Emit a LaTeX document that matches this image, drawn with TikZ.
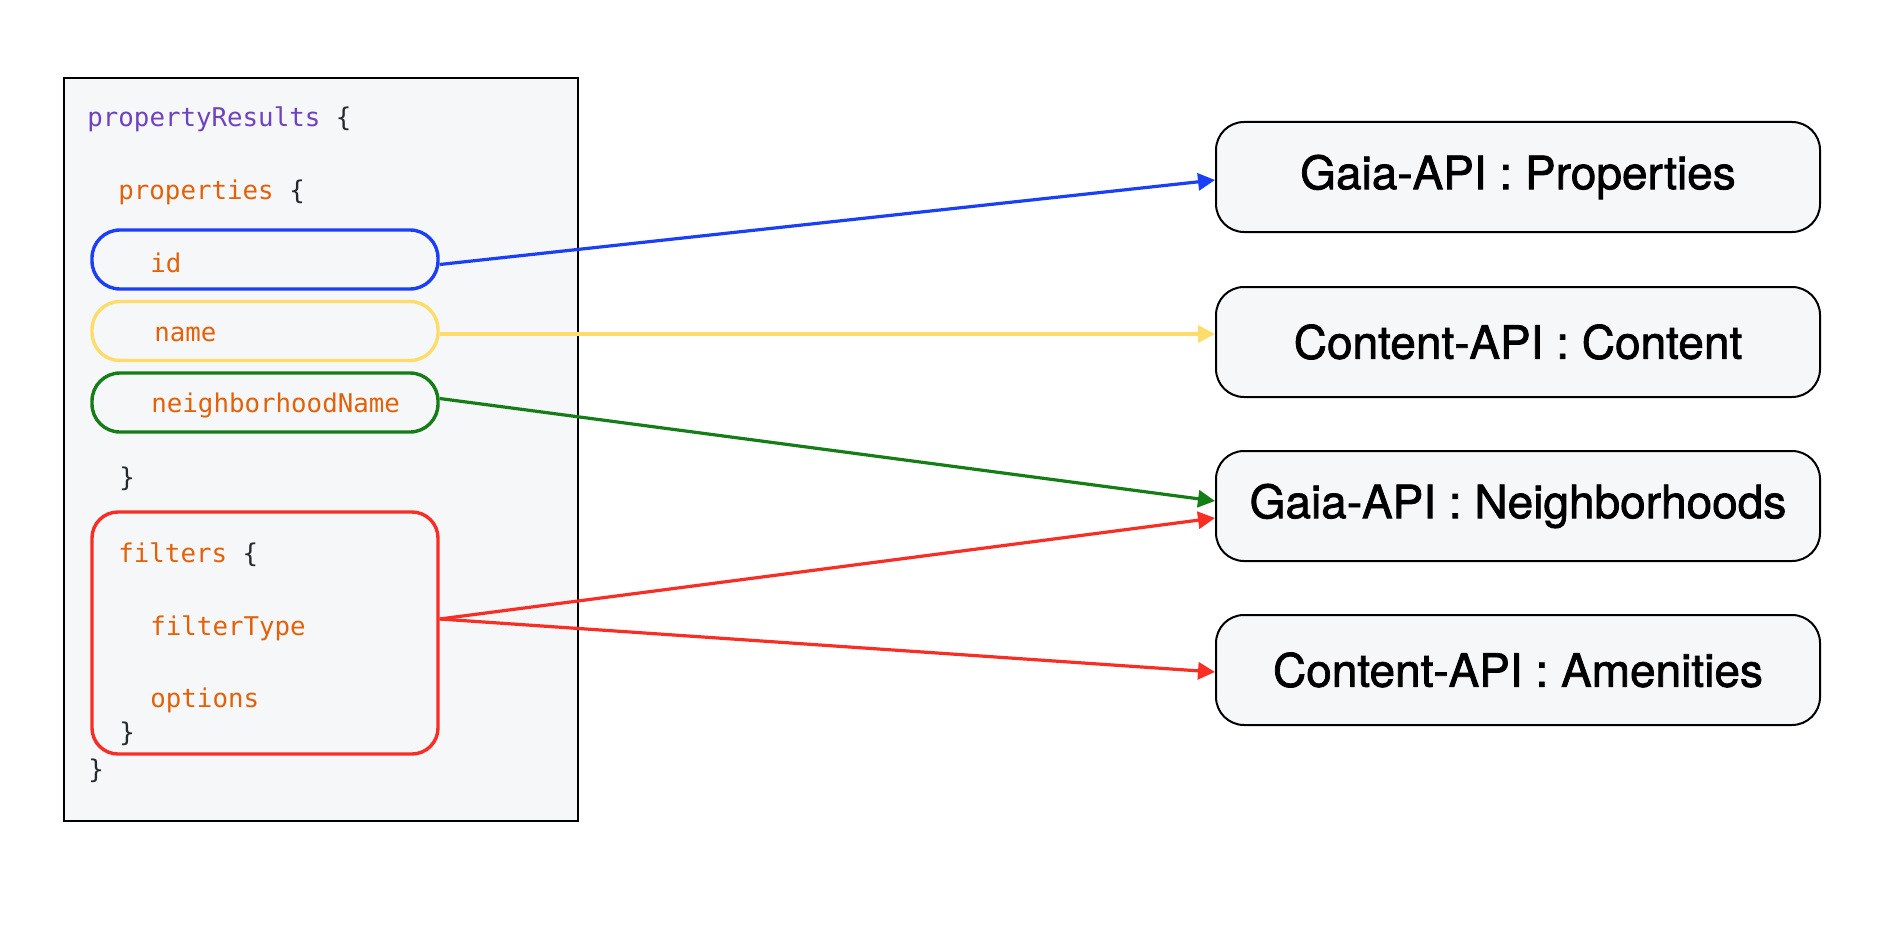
\documentclass[tikz,border=0pt]{standalone}
\usepackage{fontspec}
\setmainfont{TeX Gyre Heros}
\newfontfamily\apifont{TeX Gyre Heros}[FakeBold=1.6]
\newfontfamily\codefont{DejaVu Sans Mono}
\usetikzlibrary{arrows.meta}
\definecolor{bgbox}{HTML}{F6F7F9}
\definecolor{cpurple}{HTML}{6F42C1}
\definecolor{corange}{HTML}{E36209}
\definecolor{cdark}{HTML}{24292E}
\definecolor{lblue}{HTML}{1A3FF6}
\definecolor{lyellow}{HTML}{FDDC69}
\definecolor{lgreen}{HTML}{147D16}
\definecolor{lred}{HTML}{F82D23}
\tikzset{
  code/.style={font=\codefont\fontsize{12.9}{15}\selectfont, anchor=base west, inner sep=0pt, text=corange},
  pill/.style={draw, line width=1.7pt, fill=bgbox, rounded corners=14pt, minimum width=173pt, minimum height=29.5pt, inner sep=0pt},
  apibox/.style={draw=black, line width=1pt, fill=bgbox, rounded corners=14pt, minimum width=302pt, minimum height=55pt, font=\apifont\fontsize{23}{27}\selectfont, inner sep=0pt},
  conn/.style={line width=1.6pt, -{Triangle[length=8.5pt, width=8.5pt]}},
}
\begin{document}
\begin{tikzpicture}[x=0.5pt,y=-0.5pt]
\useasboundingbox (0,0) rectangle (1882,936);
% code panel
\node[draw=black, line width=1pt, fill=bgbox, anchor=north west, minimum width=257pt, minimum height=371.5pt, inner sep=0pt] (panel) at (63,77) {};
% pills
\node[pill, draw=lblue] (id) at (265,259.5) {};
\node[pill, draw=lyellow] (name) at (265,331) {};
\node[pill, draw=lgreen] (nbh) at (265,402.5) {};
\node[pill, draw=lred, minimum height=121pt, rounded corners=13pt] (filters) at (265,633) {};
% code text
\node[code] (l1) at (87,127) {\textcolor{cpurple}{propertyResults} \textcolor{cdark}{\{}};
\node[code] (l2) at (118,199) {properties \textcolor{cdark}{\{}};
\node[code] (l3) at (150,272) {id};
\node[code] (l4) at (154,341) {name};
\node[code] (l5) at (151,412) {neighborhoodName};
\node[code, text=cdark] (l6) at (119,486) {\}};
\node[code] (l7) at (118,562) {filters \textcolor{cdark}{\{}};
\node[code] (l8) at (150,635) {filterType};
\node[code] (l9) at (150,707) {options};
\node[code, text=cdark] (l10) at (119,741) {\}};
\node[code, text=cdark] (l11) at (88,778) {\}};
% api boxes
\node[apibox] (props) at (1518,177) {Gaia-API : Properties};
\node[apibox] (content) at (1518,342) {Content-API : Content};
\node[apibox] (nbhd) at (1518,506) {Gaia-API : Neighborhoods};
\node[apibox] (amen) at (1518,670) {Content-API : Amenities};
% connectors
\coordinate (idsrc) at ([yshift=-2.5pt]id.east);
\coordinate (fsrc) at ([yshift=7pt]filters.east);
\draw[conn, lblue] (idsrc) -- ([yshift=-1.5pt]props.west);
\draw[conn, lyellow] ([yshift=-1.5pt]name.east) -- ([yshift=-1.5pt]name.east -| content.west);
\draw[conn, lgreen] ([yshift=2pt]nbh.east) -- ([yshift=2.5pt]nbhd.west);
\draw[conn, lred] (fsrc) -- ([yshift=-6pt]nbhd.west);
\draw[conn, lred] (fsrc) -- ([yshift=-1pt]amen.west);
\end{tikzpicture}
\end{document}
